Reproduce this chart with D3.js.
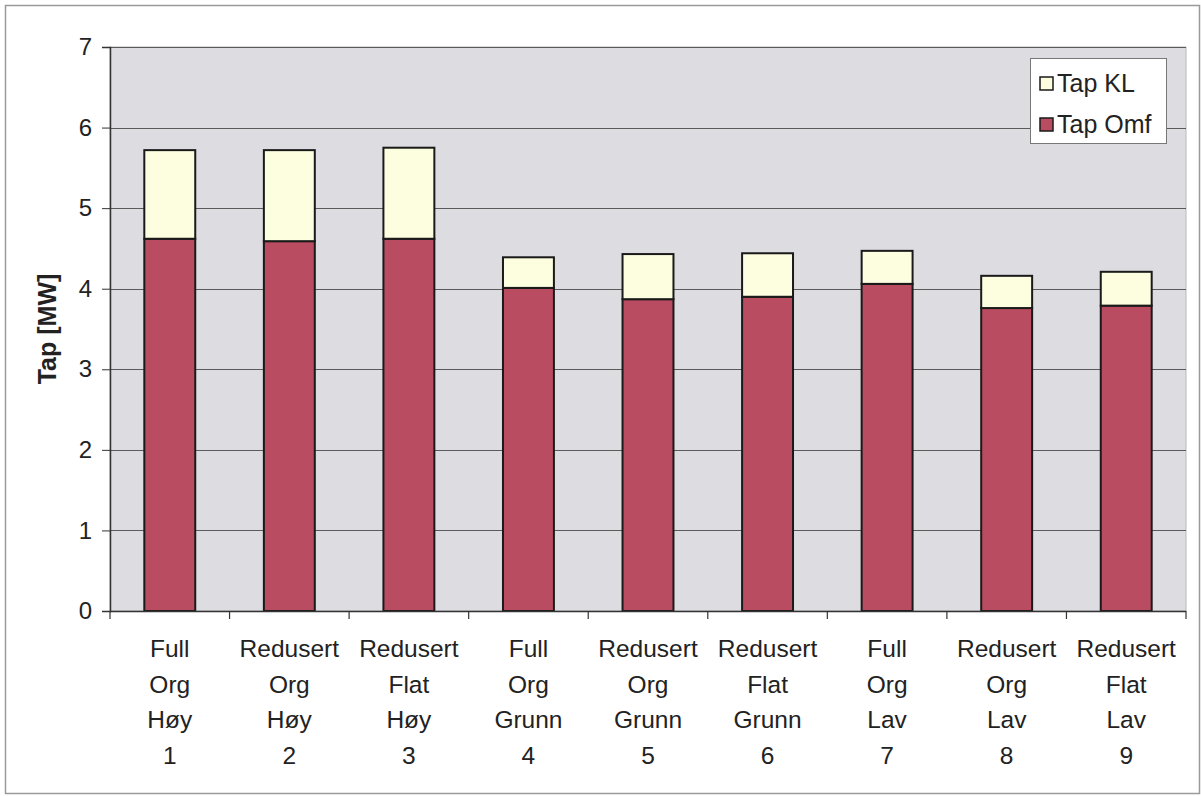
<!DOCTYPE html>
<html>
<head>
<meta charset="utf-8">
<script src="https://cdn.jsdelivr.net/npm/d3@7"></script>
<style>
  html, body { margin: 0; padding: 0; background: #fff; }
  svg { display: block; font-family: "Liberation Sans", Arial, sans-serif; }
</style>
</head>
<body>
<svg id="chart" width="1201" height="796"></svg>
<script>
// Category labels, one array per text line under each bar
const lineMethod = ["Full", "Redusert", "Redusert", "Full", "Redusert", "Redusert", "Full", "Redusert", "Redusert"];
const lineProfile = ["Org", "Org", "Flat", "Org", "Org", "Flat", "Org", "Org", "Flat"];
const lineLevel = ["Høy", "Høy", "Høy", "Grunn", "Grunn", "Grunn", "Lav", "Lav", "Lav"];
const caseNo = ["1", "2", "3", "4", "5", "6", "7", "8", "9"];

// Losses in MW (stacked: Tap Omf at the bottom, Tap KL on top)
const tapOmf = [4.62, 4.59, 4.62, 4.01, 3.87, 3.90, 4.06, 3.76, 3.79];
const tapKL  = [1.10, 1.13, 1.13, 0.38, 0.56, 0.54, 0.41, 0.40, 0.42];

const yTicks = [0, 1, 2, 3, 4, 5, 6, 7];
const seriesNames = ["Tap KL", "Tap Omf"];

const svg = d3.select("#chart");
const plot = { left: 110, right: 1186, top: 47, bottom: 611 };

const colOmf = "#b94c60";
const colKL = "#fdfde0";

// outer frame
svg.append("rect")
  .attr("x", 5.5).attr("y", 5.5).attr("width", 1194).attr("height", 788)
  .attr("fill", "#fff").attr("stroke", "#9a9a9a").attr("stroke-width", 1.5);

const x = d3.scaleBand()
  .domain(caseNo)
  .range([plot.left, plot.right])
  .paddingInner(0.574)
  .paddingOuter(0.287);

const y = d3.scaleLinear().domain([0, 7]).range([plot.bottom, plot.top]);

// plot background
svg.append("rect")
  .attr("x", plot.left).attr("y", plot.top)
  .attr("width", plot.right - plot.left).attr("height", plot.bottom - plot.top)
  .attr("fill", "#dcdce1").attr("stroke", "#b8b8bc").attr("stroke-width", 1);

// gridlines
svg.append("g").selectAll("line")
  .data(yTicks.filter(d => d > 0))
  .join("line")
  .attr("x1", plot.left).attr("x2", plot.right)
  .attr("y1", d => Math.round(y(d)) + 0.5).attr("y2", d => Math.round(y(d)) + 0.5)
  .attr("stroke", "#5a5a5a").attr("stroke-width", 1);

// stacked bars
const rows = caseNo.map((c, i) => ({ c, omf: tapOmf[i], kl: tapKL[i] }));
const bars = svg.append("g");
bars.selectAll("rect.omf")
  .data(rows).join("rect").attr("class", "omf")
  .attr("x", d => x(d.c)).attr("width", x.bandwidth())
  .attr("y", d => y(d.omf)).attr("height", d => y(0) - y(d.omf))
  .attr("fill", colOmf).attr("stroke", "#1a1a1a").attr("stroke-width", 2);
bars.selectAll("rect.kl")
  .data(rows).join("rect").attr("class", "kl")
  .attr("x", d => x(d.c)).attr("width", x.bandwidth())
  .attr("y", d => y(d.omf + d.kl)).attr("height", d => y(d.omf) - y(d.omf + d.kl))
  .attr("fill", colKL).attr("stroke", "#1a1a1a").attr("stroke-width", 2);

// y axis
const yAxis = svg.append("g")
  .attr("transform", `translate(${plot.left},0)`)
  .call(d3.axisLeft(y).tickValues(yTicks).tickSize(8).tickPadding(10).tickFormat(d3.format("d")));
yAxis.select(".domain").attr("stroke", "#333").attr("stroke-width", 1.5);
yAxis.selectAll(".tick line").attr("stroke", "#333");
yAxis.selectAll(".tick text").attr("font-size", 24).attr("fill", "#222")
  .attr("font-family", "Liberation Sans, Arial, sans-serif");

// x axis: line with tick marks at category boundaries
const step = x.step();
svg.append("line")
  .attr("x1", plot.left).attr("x2", plot.right)
  .attr("y1", plot.bottom + 0.5).attr("y2", plot.bottom + 0.5)
  .attr("stroke", "#333").attr("stroke-width", 1.5);
svg.append("g").selectAll("line")
  .data(d3.range(caseNo.length + 1))
  .join("line")
  .attr("x1", i => plot.left + i * step).attr("x2", i => plot.left + i * step)
  .attr("y1", plot.bottom).attr("y2", plot.bottom + 8)
  .attr("stroke", "#333").attr("stroke-width", 1.2);

// category labels
const labelLines = [lineMethod, lineProfile, lineLevel, caseNo];
const labels = svg.append("g").attr("font-size", 24.5).attr("fill", "#222").attr("text-anchor", "middle");
caseNo.forEach((c, i) => {
  const t = labels.append("text").attr("x", x(c) + x.bandwidth() / 2);
  labelLines.forEach((arr, k) => {
    t.append("tspan").attr("x", x(c) + x.bandwidth() / 2).attr("y", 657 + k * 35.5).text(arr[i]);
  });
});

// y axis title
svg.append("text")
  .attr("transform", `translate(56,${(plot.top + plot.bottom) / 2}) rotate(-90)`)
  .attr("text-anchor", "middle")
  .attr("font-size", 25).attr("font-weight", "bold").attr("fill", "#222")
  .text("Tap [MW]");

// legend
const lg = svg.append("g").attr("transform", "translate(1030,58)");
lg.append("rect").attr("x", 0.5).attr("y", 0.5).attr("width", 136).attr("height", 85)
  .attr("fill", "#fff").attr("stroke", "#777").attr("stroke-width", 1);
const legendColors = [colKL, colOmf];
seriesNames.forEach((name, i) => {
  const gy = 25 + i * 41;
  lg.append("rect").attr("x", 10).attr("y", gy - 6).attr("width", 13).attr("height", 13)
    .attr("fill", legendColors[i]).attr("stroke", "#1a1a1a").attr("stroke-width", 1.5);
  lg.append("text").attr("x", 27).attr("y", gy + 9).attr("font-size", 25).attr("fill", "#222").text(name);
});
</script>
</body>
</html>
